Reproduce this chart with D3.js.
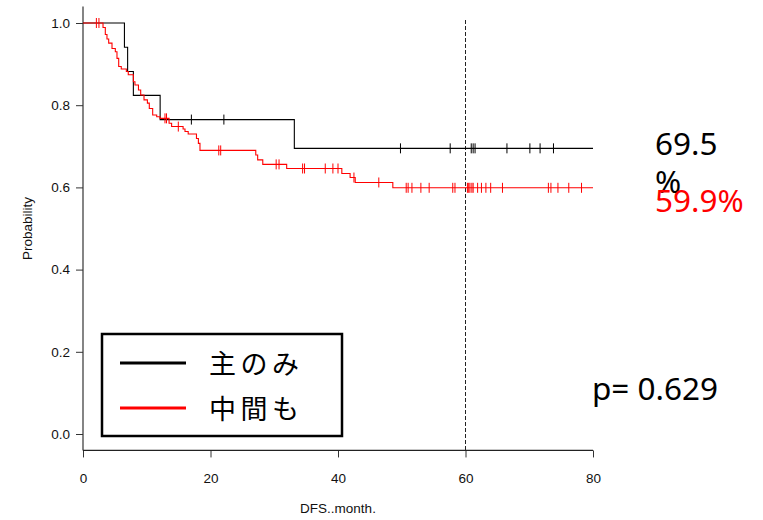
<!DOCTYPE html>
<html>
<head>
<meta charset="utf-8">
<script src="https://cdn.jsdelivr.net/npm/d3@7"></script>
<style>
  body { margin: 0; background: #fff; }
  svg { display: block; }
</style>
</head>
<body>
<svg id="canvas" width="763" height="520"></svg>
<script>
// step curves (time in months, survival after the step)
let blackTimes = [0, 6.5, 7.0, 7.9, 12.1, 33.15, 80];
let blackSurv = [1, 0.941, 0.882, 0.824, 0.765, 0.695, 0.695];
let blackCensor = [17.0, 22.1, 49.8, 57.6, 60.9, 61.2, 61.5, 66.5, 70.1, 71.7, 73.8];

let redTimes = [0, 3.14, 3.5, 3.76, 4.03, 4.55, 5.07, 5.33, 5.6, 6.0, 6.8, 7.1, 7.9, 8.15, 8.7,
  9.05, 9.57, 10.1, 10.4, 10.93, 11.56, 12.08, 13.5, 13.9, 15.7, 16.0, 16.5, 17.8, 18.1, 18.35,
  27.1, 27.4, 28.2, 31.95, 40.6, 41.9, 42.7, 48.6, 80];
let redSurv = [1, 0.989, 0.972, 0.961, 0.951, 0.938, 0.930, 0.914, 0.894, 0.888, 0.882, 0.874, 0.857, 0.849, 0.837,
  0.825, 0.813, 0.805, 0.792, 0.776, 0.772, 0.768, 0.756, 0.748, 0.742, 0.736, 0.730, 0.719, 0.707, 0.690,
  0.679, 0.667, 0.656, 0.646, 0.634, 0.624, 0.612, 0.599, 0.599];
let redCensor = [2.1, 2.5, 12.86, 13.1, 14.95, 21.3, 21.6, 30.3, 30.75, 34.45, 34.75, 38.0, 39.2, 40.0,
  42.5, 46.4, 50.7, 51.0, 51.6, 53.0, 54.3, 58.0, 58.35, 60.3, 60.5, 60.7, 61.0, 61.2, 61.9, 62.5,
  63.2, 63.95, 65.8, 73.0, 73.4, 74.5, 76.2, 78.2];

let xTicks = [0, 20, 40, 60, 80];
let yTicks = [0, 0.2, 0.4, 0.6, 0.8, 1.0];
let legendLabels = ["主のみ", "中間も"];
let groupColors = ["#000000", "#ff0000"];
let finalLabels = ["69.5", "%", "59.9%"];
let pText = "p= 0.629";
let cutoff = 60;

let canvas = d3.select("#canvas");

let xScale = d3.scaleLinear().domain([0, 80]).range([83, 593]);
let yScale = d3.scaleLinear().domain([0, 1]).range([434, 23]);

let axisFont = "'Liberation Sans', Arial, sans-serif";
let bigFont = "'Noto Sans', 'Open Sans', sans-serif";

// axes
let xAxis = canvas.append("g")
  .attr("transform", "translate(0," + yScale(-0.04) + ")")
  .call(d3.axisBottom(xScale).tickValues(xTicks).tickSize(7).tickPadding(16).tickFormat(d3.format("d")));

let yAxis = canvas.append("g")
  .attr("transform", "translate(" + xScale(0) + ",0)")
  .call(d3.axisLeft(yScale).tickValues(yTicks).tickSize(7).tickPadding(6).tickFormat(d3.format(".1f")));

[xAxis, yAxis].forEach((ax) => {
  ax.select(".domain").remove();
  ax.selectAll("line").attr("stroke", "#333");
  ax.selectAll("text").attr("font-family", axisFont).attr("font-size", 13.5).attr("fill", "#111");
});

// L shaped frame
canvas.append("line")
  .attr("x1", xScale(0)).attr("x2", xScale(0))
  .attr("y1", yScale(1.04)).attr("y2", yScale(-0.04))
  .attr("stroke", "#333").attr("stroke-width", 1.2);
canvas.append("line")
  .attr("x1", xScale(0)).attr("x2", xScale(80))
  .attr("y1", yScale(-0.04)).attr("y2", yScale(-0.04))
  .attr("stroke", "#222").attr("stroke-width", 1.2);

canvas.append("text")
  .text("DFS..month.")
  .attr("x", xScale(40)).attr("y", 513)
  .attr("text-anchor", "middle")
  .attr("font-family", axisFont).attr("font-size", 13.5).attr("fill", "#111");

canvas.append("text")
  .text("Probability")
  .attr("transform", "translate(32," + yScale(0.5) + ") rotate(-90)")
  .attr("text-anchor", "middle")
  .attr("font-family", axisFont).attr("font-size", 13.5).attr("fill", "#111");

// cutoff line at 60 months
canvas.append("line")
  .attr("x1", xScale(cutoff)).attr("x2", xScale(cutoff))
  .attr("y1", 20).attr("y2", yScale(-0.04))
  .attr("stroke", "#222").attr("stroke-width", 1)
  .attr("stroke-dasharray", "4,2");

// survival curves
let stepLine = d3.line()
  .x((d) => xScale(d[0]))
  .y((d) => yScale(d[1]))
  .curve(d3.curveStepAfter);

let survAt = (times, surv, t) => {
  let i = d3.bisectRight(times, t) - 1;
  return surv[Math.max(i, 0)];
};

let groups = [
  { times: blackTimes, surv: blackSurv, censor: blackCensor, color: groupColors[0] },
  { times: redTimes, surv: redSurv, censor: redCensor, color: groupColors[1] }
];

groups.forEach((g) => {
  canvas.append("path")
    .datum(d3.zip(g.times, g.surv))
    .attr("d", stepLine)
    .attr("fill", "none")
    .attr("stroke", g.color)
    .attr("stroke-width", 1.1);

  canvas.selectAll(null)
    .data(g.censor)
    .enter()
    .append("line")
    .attr("x1", (t) => xScale(t)).attr("x2", (t) => xScale(t))
    .attr("y1", (t) => yScale(survAt(g.times, g.surv, t)) - 5)
    .attr("y2", (t) => yScale(survAt(g.times, g.surv, t)) + 5)
    .attr("stroke", g.color)
    .attr("stroke-width", 1);
});

// legend
let legend = canvas.append("g");
legend.append("rect")
  .attr("x", 102).attr("y", 334)
  .attr("width", 240).attr("height", 102)
  .attr("fill", "#fff").attr("stroke", "#000").attr("stroke-width", 2.5);

legendLabels.forEach((label, i) => {
  let yy = 363 + i * 45;
  legend.append("line")
    .attr("x1", 120).attr("x2", 186)
    .attr("y1", yy).attr("y2", yy)
    .attr("stroke", groupColors[i]).attr("stroke-width", 3);
  legend.append("text")
    .text(label)
    .attr("x", 209).attr("y", yy + 11)
    .attr("font-family", "'Noto Sans CJK JP', sans-serif")
    .attr("font-size", 27)
    .attr("letter-spacing", 4.5)
    .attr("fill", "#000");
});

// annotations
canvas.append("text").text(finalLabels[0])
  .attr("x", 655).attr("y", 155)
  .attr("font-family", bigFont).attr("font-size", 31.5).attr("fill", "#000");
canvas.append("text").text(finalLabels[1])
  .attr("x", 655).attr("y", 193)
  .attr("font-family", bigFont).attr("font-size", 31.5).attr("fill", "#000");
canvas.append("text").text(finalLabels[2])
  .attr("x", 655).attr("y", 212)
  .attr("font-family", bigFont).attr("font-size", 31.5).attr("fill", "#ff0000");

canvas.append("text").text(pText)
  .attr("x", 592).attr("y", 400)
  .attr("font-family", bigFont).attr("font-size", 31.5).attr("fill", "#000");
</script>
</body>
</html>
